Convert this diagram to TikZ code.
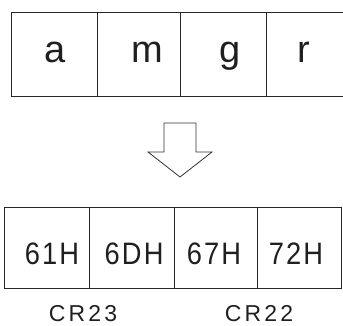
\documentclass[tikz,border=0pt]{standalone}
\usepackage{fontspec}
\usepackage{graphicx}
\setmainfont{Liberation Sans}
\newfontfamily\spaced[LetterSpace=8]{Liberation Sans}
\newfontfamily\lspaced[LetterSpace=14]{Liberation Sans}
\newcommand{\narrowtxt}[1]{\scalebox{0.88}[1]{#1}}
\begin{document}
\begin{tikzpicture}[x=1pt,y=-1pt,
  cellbox/.style={draw=black!85, line width=0.9pt, anchor=north west, inner sep=0pt, outer sep=0pt},
  bigtxt/.style={anchor=base, inner sep=0pt, text=black!88, font=\fontsize{38}{38}\selectfont},
  midtxt/.style={anchor=base, inner sep=0pt, text=black!88, font=\spaced\fontsize{31}{31}\selectfont},
  labtxt/.style={anchor=base, inner sep=0pt, text=black!88, font=\lspaced\fontsize{23}{23}\selectfont}]
\useasboundingbox (0,0) rectangle (343,326);
\clip (0,0) rectangle (343,326);
% top row
\node[cellbox, minimum width=86pt, minimum height=84pt] (t1) at (11,12) {};
\node[cellbox, minimum width=83pt, minimum height=84pt] (t2) at (97,12) {};
\node[cellbox, minimum width=86pt, minimum height=84pt] (t3) at (180,12) {};
\node[cellbox, minimum width=86pt, minimum height=84pt] (t4) at (266,12) {};
\node[bigtxt] (la) at (55,63) {a};
\node[bigtxt] (lm) at (147,63) {m};
\node[bigtxt] (lg) at (230,63) {g};
\node[bigtxt] (lr) at (304,63) {r};
% arrow
\draw[draw=black!80, line width=0.8pt, line join=miter]
  (164,123) -- (196,123) -- (196,152) -- (212,152) -- (180,177) -- (148,152) -- (164,152) -- cycle;
% bottom row
\node[cellbox, minimum width=85pt, minimum height=81pt] (b1) at (4,207) {};
\node[cellbox, minimum width=85pt, minimum height=81pt] (b2) at (89,207) {};
\node[cellbox, minimum width=83pt, minimum height=81pt] (b3) at (174,207) {};
\node[cellbox, minimum width=84pt, minimum height=81pt] (b4) at (257,207) {};
\node[midtxt] (h1) at (52,265) {\narrowtxt{61H}};
\node[midtxt] (h2) at (134,265) {\narrowtxt{6DH}};
\node[midtxt] (h3) at (214,265) {\narrowtxt{67H}};
\node[midtxt] (h4) at (296,265) {\narrowtxt{72H}};
% labels
\node[labtxt] (c23) at (83,321) {CR23};
\node[labtxt] (c22) at (259,321) {CR22};
\end{tikzpicture}
\end{document}
